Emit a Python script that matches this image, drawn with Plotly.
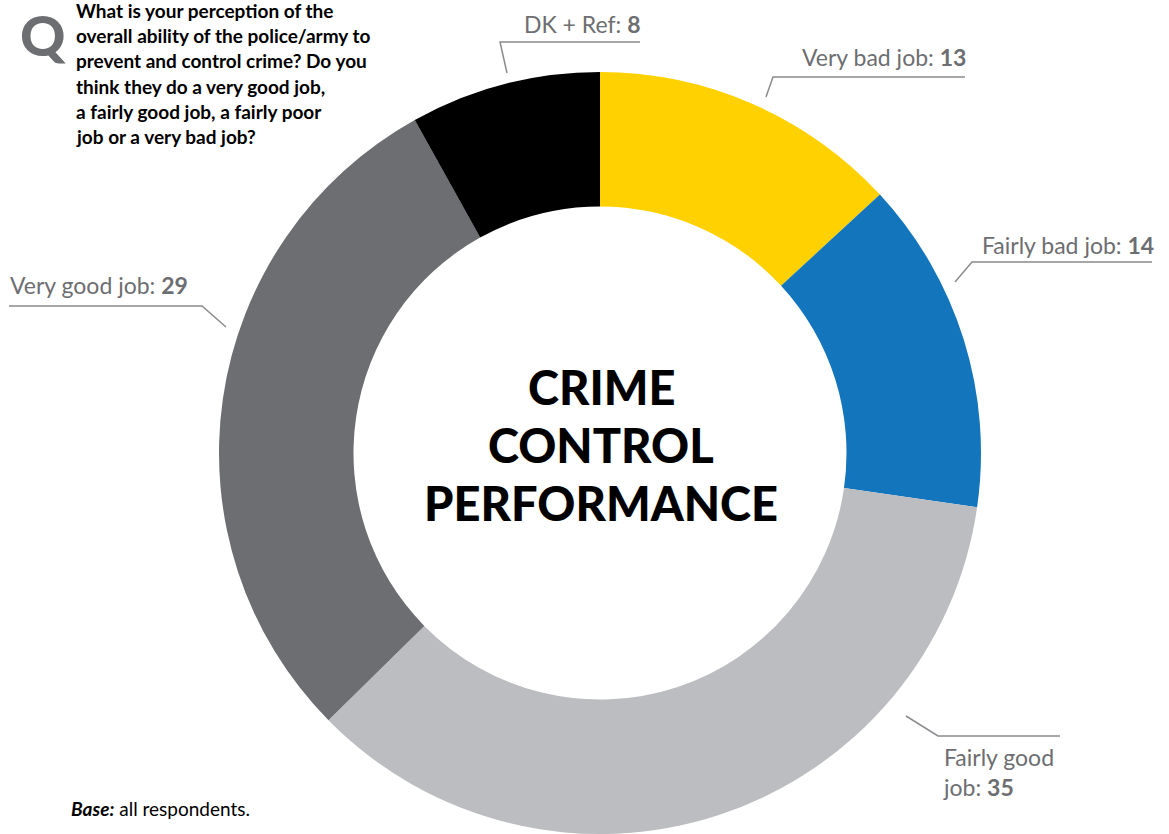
import plotly.graph_objects as go

# ---- data ----
categories = ["Very bad job", "Fairly bad job", "Fairly good job", "Very good job", "DK + Ref"]
values = [13, 14, 35, 29, 8]
colors = ["#FFD100", "#1375BC", "#BCBDC0", "#6D6E71", "#000000"]

question_lines = [
    "What is your perception of the",
    "overall ability of the police/army to",
    "prevent and control crime? Do you",
    "think they do a very good job,",
    "a fairly good job, a fairly poor",
    "job or a very bad job?",
]
center_title = ["CRIME", "CONTROL", "PERFORMANCE"]

W, H = 1169, 834
FONT = "Lato"
LBL = "#6D6E71"


def px(x):
    return x / W


def py(y):
    return 1 - y / H


fig = go.Figure()
fig.add_trace(go.Pie(
    labels=categories,
    values=values,
    hole=0.647,
    sort=False,
    direction="clockwise",
    rotation=0,
    marker=dict(colors=colors, line=dict(width=0)),
    textinfo="none",
    hoverinfo="label+value",
    showlegend=False,
    domain=dict(x=[px(600 - 382), px(600 + 382)], y=[0, 2 * 381 / H]),
))

annotations = []
# slice labels (text, x, y, anchor)
label_specs = [
    (f"DK + Ref: <b>{values[4]}</b>", 643, 24, "right"),
    (f"Very bad job: <b>{values[0]}</b>", 968, 57, "right"),
    (f"Fairly bad job: <b>{values[1]}</b>", 1156, 245, "right"),
    (f"Very good job: <b>{values[3]}</b>", 8, 285, "left"),
    (f"Fairly good<br>job: <b>{values[2]}</b>", 941, 772, "left"),
]
for txt, x, y, anc in label_specs:
    annotations.append(dict(
        text=txt, x=px(x), y=py(y), xref="paper", yref="paper",
        xanchor=anc, yanchor="middle", align=anc, showarrow=False,
        font=dict(family=FONT, size=23, color=LBL),
    ))

# leader lines: (corner, end of horizontal, end of diagonal)
leaders = [
    ((500, 42), 640, (507, 73)),
    ((773, 77), 965, (766, 97)),
    ((972, 262), 1152, (955, 282)),
    ((202, 306), 9, (226, 327)),
    ((938, 736), 1060, (906, 716)),
]
shapes = []
for (cx, cy), hx, (dx, dy) in leaders:
    path = f"M {px(hx)},{py(cy)} L {px(cx)},{py(cy)} L {px(dx)},{py(dy)}"
    shapes.append(dict(type="path", path=path, xref="paper", yref="paper",
                       line=dict(color="#8A8B8E", width=1.5)))

# center title
for i, t in enumerate(center_title):
    annotations.append(dict(
        text=t, x=px(601), y=py(387 + 58 * i), xref="paper", yref="paper",
        xanchor="center", yanchor="middle", showarrow=False,
        font=dict(family=FONT, size=47, color="#000000", weight=900),
    ))

# question block
annotations.append(dict(
    text="Q", x=px(43), y=1, xref="paper", yref="paper",
    xanchor="center", yanchor="top", showarrow=False,
    borderpad=0,
    font=dict(family=FONT, size=56, color="#6D6E71", weight=900),
))
for i, line in enumerate(question_lines):
    annotations.append(dict(
        text=f"<b>{line}</b>", x=px(74), y=py(10 + 25.4 * i), xref="paper", yref="paper",
        xanchor="left", yanchor="middle", showarrow=False,
        font=dict(family=FONT, size=19, color="#000000"),
    ))

# footer
annotations.append(dict(
    text="<b><i>Base:</i></b> all respondents.", x=px(69), y=py(808), xref="paper", yref="paper",
    xanchor="left", yanchor="middle", showarrow=False,
    font=dict(family=FONT, size=19, color="#000000"),
))

fig.update_layout(
    width=W, height=H,
    margin=dict(l=0, r=0, t=0, b=0),
    paper_bgcolor="white", plot_bgcolor="white",
    annotations=annotations, shapes=shapes,
)

fig.write_html("out.html", config={"displayModeBar": False},
               post_script="document.body.style.margin='0';")
